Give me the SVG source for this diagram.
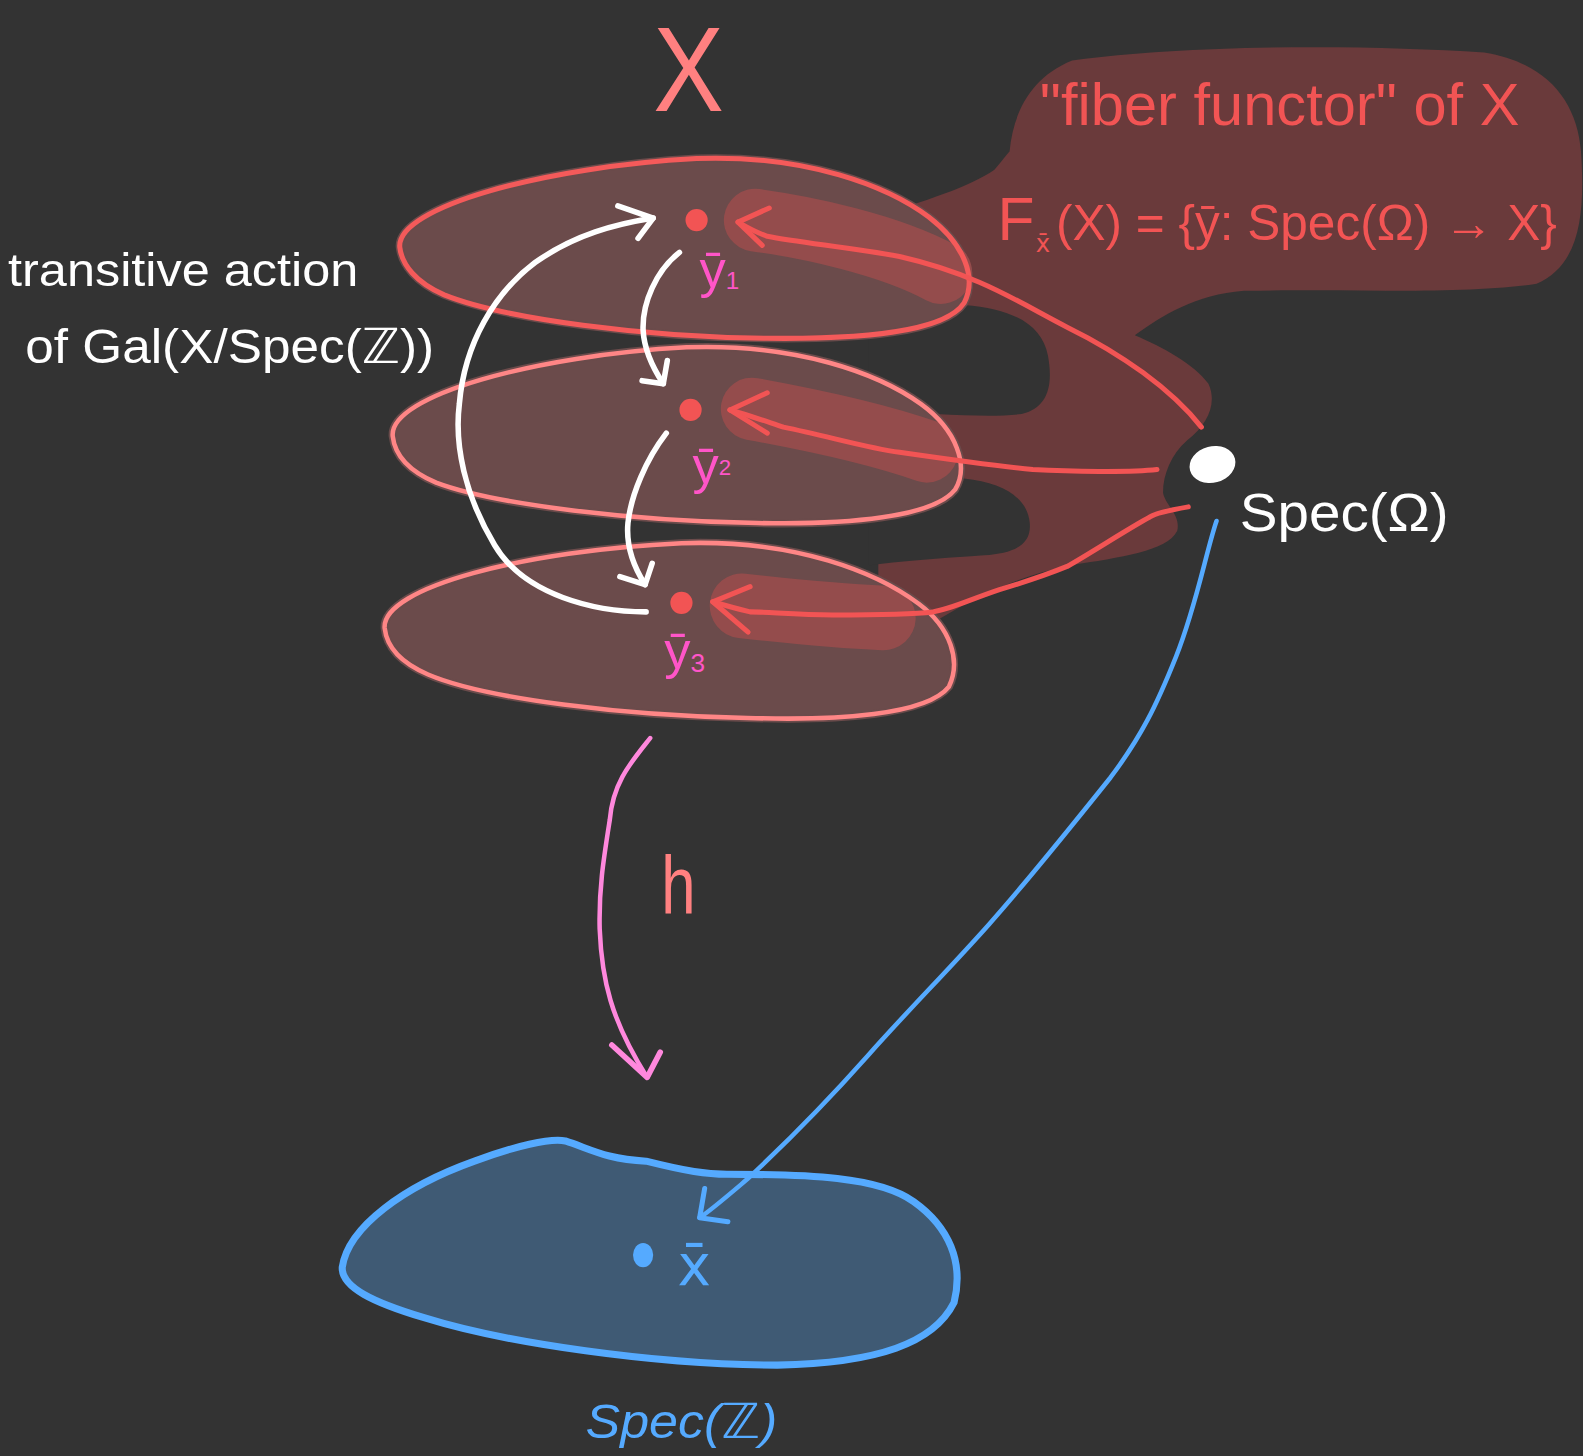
<svg xmlns="http://www.w3.org/2000/svg" width="1583" height="1456" viewBox="0 0 1583 1456">
<defs>
<style>
.t{font-family:"Liberation Sans","DejaVu Sans",sans-serif;}
.d{font-family:"DejaVu Sans","Liberation Sans",sans-serif;}
.red{fill:#f25454;}
.pink{fill:#ff55c8;}
.white{fill:#ffffff;}
.blue{fill:#55aaff;}
.efill{fill:#6b4b4b;stroke:#6b4b4b;stroke-width:8;}
.hl{fill:none;stroke:#944c4c;stroke-linecap:round;}
.ln{fill:none;stroke-linecap:round;stroke-linejoin:round;}
.ra{stroke:#f25454;stroke-width:5;}
.wa{stroke:#ffffff;stroke-width:5.5;}
</style>
</defs>
<rect width="1583" height="1456" fill="#333333"/>
<g transform="scale(1.00957,1.00971)">
<g id="fiber-functor-blob">
<path fill="#6a3a3b" d="M1000,150 C1004,110 1022,76 1062,60 C1180,44 1350,44 1470,52 C1532,62 1562,100 1566,150 C1570,210 1566,262 1522,281 C1450,292 1320,286 1232,288 C1184,292 1152,312 1124,332 C1152,344 1182,360 1197,380 C1206,400 1196,420 1176,436 C1160,450 1152,470 1152,488 C1154,500 1170,510 1166,526 C1156,546 1110,552 1060,560 C1010,570 970,590 932,612 L880,640 L870,640 L870,214 L855,218 C920,198 960,185 985,168 C992,160 998,152 1000,150 Z"/>
<path fill="#333333" d="M860,300 L955,302 C1005,306 1032,322 1038,352 C1044,385 1036,404 1012,410 C980,414 930,410 860,406 Z"/>
<path fill="#333333" d="M860,470 L955,474 C995,478 1018,494 1020,518 C1022,540 1004,548 975,550 C930,553 890,556 860,560 Z"/>
<text class="t red" x="1030" y="124" font-size="58" textLength="475" lengthAdjust="spacingAndGlyphs">"fiber functor" of X</text>
<text class="t red" x="988" y="238" font-size="60">F</text>
<text class="d red" x="1026" y="250" font-size="24">x̄</text>
<text class="t red" x="1046" y="238" font-size="50" textLength="496" lengthAdjust="spacingAndGlyphs">(X) = {ȳ: Spec(Ω) → X}</text>
</g>
<g id="fiber-y1">
<path class="efill" d="M396,245 C392,205 540,165 690,157 C800,153 880,185 920,215 C955,242 968,275 955,300 C935,330 850,336 760,335 C640,334 500,316 440,292 C412,280 398,262 396,245 Z"/>
</g>
<g id="fiber-y2">
<path class="efill" d="M389,432 C385,392 530,352 680,344 C790,340 870,370 912,400 C948,426 960,462 946,485 C925,512 840,520 750,518 C630,516 490,500 432,478 C404,466 391,450 389,432 Z"/>
</g>
<g id="fiber-y3">
<path class="efill" d="M381,622 C378,582 520,545 675,538 C790,534 870,568 910,598 C942,622 952,655 940,680 C918,708 830,714 740,711 C620,709 480,692 424,668 C396,656 383,640 381,622 Z"/>
</g>
<g id="highlights">
<path class="hl" stroke-width="62" d="M748,218 C800,225 880,242 932,270"/>
<path class="hl" stroke-width="62" d="M745,405 C800,415 870,430 918,447"/>
<path class="hl" stroke-width="64" d="M735,600 C780,605 830,610 875,612"/>
</g>
<g id="outlines">
<path fill="none" stroke="#f45a5a" stroke-width="5" d="M396,245 C392,205 540,165 690,157 C800,153 880,185 920,215 C955,242 968,275 955,300 C935,330 850,336 760,335 C640,334 500,316 440,292 C412,280 398,262 396,245 Z"/>
<path fill="none" stroke="#ff8686" stroke-width="4.5" d="M389,432 C385,392 530,352 680,344 C790,340 870,370 912,400 C948,426 960,462 946,485 C925,512 840,520 750,518 C630,516 490,500 432,478 C404,466 391,450 389,432 Z"/>
<path fill="none" stroke="#ff8686" stroke-width="4.5" d="M381,622 C378,582 520,545 675,538 C790,534 870,568 910,598 C942,622 952,655 940,680 C918,708 830,714 740,711 C620,709 480,692 424,668 C396,656 383,640 381,622 Z"/>
</g>
<g id="points-y">
<circle class="red" cx="690" cy="218" r="11"/>
<circle class="red" cx="684" cy="406" r="11"/>
<circle class="red" cx="675" cy="597" r="11"/>
<text class="t pink" x="693" y="284" font-size="52">ȳ<tspan font-size="24" dy="2">1</tspan></text>
<text class="t pink" x="686" y="478" font-size="52">ȳ<tspan font-size="22" dy="-8">2</tspan></text>
<text class="t pink" x="658" y="662" font-size="52">ȳ<tspan font-size="26" dy="4">3</tspan></text>
</g>
<g id="spec-Z">
<path fill="#3f5a74" stroke="#55aaff" stroke-width="7" d="M339,1255 C345,1215 400,1175 470,1150 C510,1135 545,1127 560,1130 C585,1138 600,1148 640,1150 C680,1160 700,1163 720,1163 C800,1163 870,1165 905,1190 C940,1215 955,1250 945,1290 C925,1330 870,1350 770,1352 C650,1352 500,1330 420,1305 C370,1290 338,1275 339,1255 Z"/>
<ellipse class="blue" cx="637" cy="1243" rx="10" ry="12"/>
<text class="d blue" x="671" y="1273" font-size="56">x̄</text>
<text class="t blue" x="580" y="1424" font-size="48" textLength="190" lengthAdjust="spacingAndGlyphs" font-style="italic">Spec(ℤ)</text>
</g>
<g id="spec-Omega">
<ellipse class="white" cx="1201" cy="460" rx="23" ry="18" transform="rotate(-15 1201 460)"/>
<text class="t white" x="1228" y="526" font-size="54" textLength="207" lengthAdjust="spacingAndGlyphs">Spec(Ω)</text>
</g>
<g id="title-X">
<text class="t" fill="#ff8080" x="647" y="110" font-size="120" textLength="70" lengthAdjust="spacingAndGlyphs">X</text>
</g>
<g id="galois-label">
<text class="t white" x="8" y="283" font-size="46" textLength="347" lengthAdjust="spacingAndGlyphs">transitive action</text>
<text class="t white" x="25" y="360" font-size="48" textLength="405" lengthAdjust="spacingAndGlyphs">of Gal(X/Spec(ℤ))</text>
</g>
<g id="connectors">
<path class="ln ra" d="M1190,423 C1160,385 1110,350 1057,324 C1010,300 970,272 891,254 C840,245 790,240 760,234 C748,230 738,224 731,220"/>
<path class="ln ra" d="M762,206 L731,220 L755,243"/>
<path class="ln ra" d="M1146,465 C1120,468 1060,467 1023,465 C990,462 960,458 891,448 C860,444 820,432 776,423 C755,416 738,410 723,406"/>
<path class="ln ra" d="M760,389 L723,406 L760,429"/>
<path class="ln ra" d="M1177,502 C1160,505 1145,508 1139,512 C1120,522 1080,548 1057,561 C1030,572 1010,578 990,584 C960,594 940,604 924,606 C900,609 860,609 825,609 C790,609 760,606 743,606 C730,603 716,599 706,596"/>
<path class="ln ra" d="M743,581 L706,596 L741,626"/>
<path class="ln wa" d="M640,606 C590,606 520,590 490,540 C460,490 450,440 455,400 C460,340 490,290 530,260 C570,232 610,222 647,216"/>
<path class="ln wa" d="M612,204 L647,216 L632,236"/>
<path class="ln wa" d="M673,250 C650,268 636,300 637,327 C638,345 645,362 657,380"/>
<path class="ln wa" d="M636,377 L657,380 L661,357"/>
<path class="ln wa" d="M660,429 C640,455 625,490 622,518 C620,540 628,562 639,579"/>
<path class="ln wa" d="M614,571 L639,579 L646,558"/>
<path class="ln" stroke="#ff88dd" stroke-width="4.5" d="M644,731 C625,755 607,775 604,812 C598,850 593,880 594,920 C596,970 605,1010 641,1067"/>
<path class="ln" stroke="#ff88dd" stroke-width="5.5" d="M606,1035 L641,1067 L654,1042"/>
<path class="ln" stroke="#55aaff" stroke-width="4.5" d="M1205,516 C1195,545 1185,600 1165,650 C1145,700 1130,730 1100,770 C1060,820 1020,870 980,915 C940,960 900,1000 860,1045 C820,1090 770,1140 740,1168 C720,1185 705,1198 693,1206"/>
<path class="ln" stroke="#55aaff" stroke-width="5" d="M698,1177 L693,1206 L721,1210"/>
</g>
<g id="map-label">
<text class="t" fill="#ff8080" x="655" y="904" font-size="80" textLength="34" lengthAdjust="spacingAndGlyphs">h</text>
</g>
</g>
</svg>
